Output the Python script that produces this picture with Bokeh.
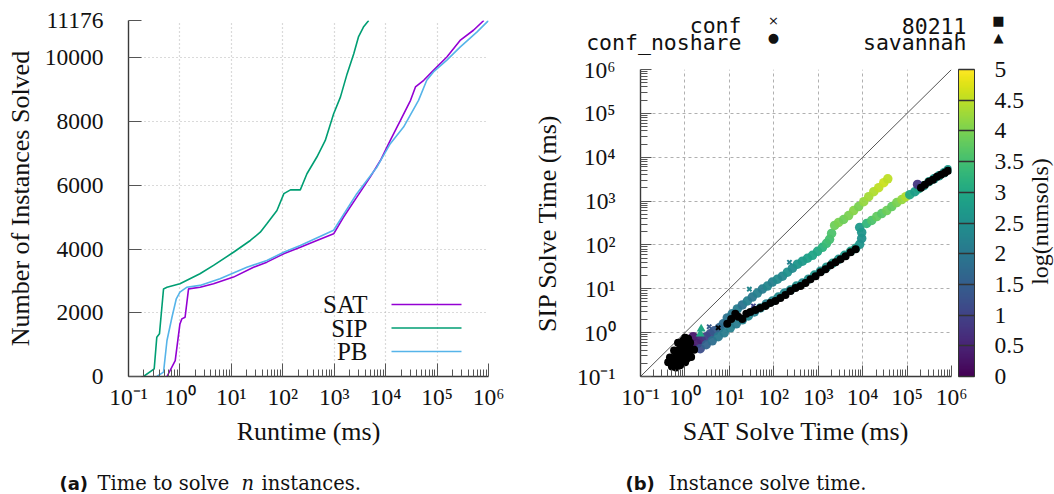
import math
from bokeh.plotting import figure
from bokeh.layouts import row, column
from bokeh.models import (FixedTicker, CustomJSTickFormatter, Label, Arrow, ColorBar,
                          LinearColorMapper, ColumnDataSource, Plot)
from bokeh.palettes import Viridis256
from bokeh.embed import file_html
from bokeh.resources import INLINE

# ---------------- data: panel (a) cumulative solved instances ----------------
sat_runtime = [0.56, 0.81, 1.0, 1.09, 1.26, 1.47, 2.47, 4.5, 11, 27, 49, 104, 219, 460, 975,
               1510, 2750, 5000, 7900, 12300, 19400, 30500, 38000, 55000, 85000, 155000,
               280000, 510000, 810000]
sat_solved = [0, 500, 1650, 1810, 1860, 2750, 2800, 2910, 3120, 3430, 3590, 3850, 4060, 4270,
              4480, 5000, 5630, 6260, 6780, 7410, 8040, 8670, 9090, 9300, 9610, 10030, 10550,
              10870, 11176]
sip_runtime = [0.196, 0.316, 0.355, 0.40, 0.48, 0.56, 1.0, 2.45, 4.5, 11, 23.4, 36.5, 49, 77,
               105, 141, 219, 295, 460, 670, 975, 1320, 1780, 2400, 2960, 3700, 4680]
sip_solved = [0, 240, 1235, 1340, 2750, 2800, 2910, 3225, 3490, 3900, 4270, 4530, 4795, 5210,
              5740, 5860, 5860, 6365, 6890, 7410, 8250, 8770, 9500, 10130, 10660, 10970, 11176]
pb_runtime = [0.355, 0.48, 0.56, 0.70, 0.85, 1.0, 1.35, 2.45, 6.0, 20, 49, 104, 219, 975, 2750,
              6800, 12300, 22300, 43600, 63000, 85000, 155000, 280000, 600000, 1000000]
pb_solved = [0, 136, 1130, 1860, 2440, 2650, 2800, 2860, 3070, 3430, 3640, 3900, 4110, 4590,
             5740, 6580, 7310, 7830, 8670, 9300, 9560, 9930, 10340, 10820, 11176]
series_names = ["SAT", "SIP", "PB"]
y_ticks_a = [0, 2000, 4000, 6000, 8000, 10000, 11176]

# ---------------- data: panel (b) instance solve time ----------------
upper_sat = [1.18, 1.46, 1.53, 1.89, 2.32, 3.01, 3.71, 4.57, 5.92, 7.29, 8.98, 11.6, 15.1, 19.6,
             25.4, 32.9, 42.7, 55.4, 71.8, 93.1, 121, 157, 203, 263, 342, 443, 574, 745, 966,
             1250, 1540, 1800, 2000, 2340, 2880, 3730, 4840, 6280, 8140, 10600, 13700, 17800,
             23000, 29900, 36800]
upper_sip = [0.35, 0.45, 0.81, 0.56, 0.69, 0.81, 0.94, 1.10, 1.29, 1.59, 2.17, 2.68, 3.47, 4.28,
             5.27, 6.49, 8.00, 9.86, 11.5, 14.2, 16.6, 19.4, 23.9, 29.5, 36.3, 42.5, 49.7, 58.1,
             71.6, 88.2, 109, 134, 183, 278, 325, 380, 468, 607, 748, 971, 1260, 1640, 2020,
             2620, 3220]
upper_lognum = [0.2, 0.3, 0.3, 0.4, 0.5, 0.9, 1.1, 1.4, 1.6, 1.8, 1.9, 2.0, 2.1, 1.9, 2.2, 2.0,
                2.2, 2.1, 2.3, 2.2, 2.4, 2.3, 2.5, 2.4, 2.6, 2.7, 2.8, 2.9, 3.0, 3.2, 3.4, 3.5,
                3.6, 3.9, 4.0, 3.9, 4.0, 4.1, 4.0, 4.2, 4.3, 4.4, 4.5, 4.6, 4.5]

lower_sat = [2.21, 3.01, 4.12, 5.62, 7.68, 10.5, 14.3, 19.6, 26.7, 36.5, 49.9, 68.2, 93.1, 127,
             174, 237, 324, 443, 605, 827, 1130, 1540, 2110, 2880, 3930, 5370, 6970, 8580,
             9520, 9520, 8580, 12300, 16000, 20800, 26900, 34900, 45300, 58700, 76200, 93800,
             115000, 150000, 184000, 239000, 310000, 402000, 521000, 676000, 832000]
lower_sip = [0.43, 0.53, 0.65, 0.81, 0.99, 1.29, 1.59, 1.96, 2.41, 2.97, 3.66, 4.51, 5.27, 6.49,
             8.00, 9.36, 11.5, 13.5, 16.6, 20.5, 25.2, 31.1, 38.2, 47.1, 58.1, 71.6, 83.6, 103,
             141, 193, 250, 308, 361, 444, 519, 607, 748, 922, 1080, 1260, 1400, 1640, 1910,
             2240, 2760, 3220, 3770, 4410, 5150]
lower_lognum = [1.2, 1.6, 1.8, 2.0, 2.1, 2.2, 2.1, 2.2, 2.3, 2.2, 2.3, 2.2, 2.3, 2.4, 2.3, 2.4,
                2.5, 2.4, 2.5, 2.6, 2.5, 2.6, 2.7, 2.6, 2.7, 2.8, 2.8, 2.6, 2.5, 2.6, 2.7, 3.3,
                3.6, 3.8, 3.7, 3.9, 3.8, 4.0, 4.2, 4.4, 3.0, 2.8, 2.9, 2.7, 2.8, 2.6, 2.7, 2.6,
                2.7]

odd_sat = [172000]
odd_sip = [2390]
odd_lognum = [0.8]

nosol_sat = [0.42, 0.51, 0.63, 0.78, 1.01, 0.46, 0.60, 0.78, 1.07, 1.38, 0.57, 0.74, 0.96, 1.24,
             1.61, 0.70, 0.91, 1.01, 1.18, 0.49, 1.31, 0.54, 0.70, 0.865, 1.12, 0.633, 0.821,
             1.065, 0.865, 1.12, 1.31,
             8.98, 11.0, 13.6, 15.9, 19.6, 24.1, 29.7, 38.5, 49.9, 64.7, 83.9, 109, 141, 183,
             237, 308, 399, 518, 671, 871, 1130, 1460, 1900, 2460, 3190, 4140, 5370, 6970,
             205000, 252000, 310000, 382000, 470000, 578000, 712000, 832000]
nosol_sip = [0.21, 0.17, 0.16, 0.18, 0.21, 0.27, 0.26, 0.28, 0.30, 0.28, 0.39, 0.41, 0.45, 0.48,
             0.41, 0.59, 0.65, 0.76, 0.73, 0.21, 0.39, 0.208, 0.23, 0.256, 0.256, 0.331, 0.35,
             0.388, 0.504, 0.56, 0.589,
             1.59, 2.06, 2.68, 2.29, 2.06, 2.68, 2.97, 3.30, 3.66, 4.06, 4.75, 5.27, 6.16, 7.21,
             8.88, 10.4, 11.5, 13.5, 16.6, 19.4, 23.9, 28.0, 34.5, 40.3, 47.1, 55.1, 67.9, 79.4,
             2020, 2360, 2760, 3060, 3580, 3970, 4410, 4890]

conf_sat = [225, 28.2, 3.52, 34.7]
conf_sip = [40.3, 9.86, 1.36, 4.06]
conf_lognum = [2.2, 2.3, 1.4, 1.0]
conf_nosol_sat = [5.62]
conf_nosol_sip = [1.29]

savannah_sat = [2.21, 2.32]
savannah_sip = [0.94, 1.22]
savannah_lognum = [3.0, 3.0]

legend_b = [("conf", "×"), ("conf_noshare", "●"), ("80211", "■"), ("savannah", "▲")]
cbar_ticks = [0, 0.5, 1, 1.5, 2, 2.5, 3, 3.5, 4, 4.5, 5]
decades = [10.0 ** k for k in range(-1, 7)]
minors = [m * 10.0 ** k for k in range(-1, 6) for m in range(2, 10)]

# ---------------- styling helpers ----------------
SERIF = "Liberation Serif"
CAP_SERIF = "DejaVu Serif"
MONO = "DejaVu Sans Mono"
TICK_FS = "23.5px"
LABEL_FS = "26px"
CAP_FS = "19.5px"
ALIGN = {"frame_align": False} if "frame_align" in Plot.properties() else {}

SUP = CustomJSTickFormatter(code="""
const e = Math.round(Math.log10(tick));
const s = {'-':'\u207b','0':'\u2070','1':'\u00b9','2':'\u00b2','3':'\u00b3','4':'\u2074',
           '5':'\u2075','6':'\u2076','7':'\u2077','8':'\u2078','9':'\u2079'};
return '10' + String(e).split('').map(c => s[c]).join('');
""")


def style_axis(ax, tick_in, minor_in):
    ax.axis_line_color = "#3a3a3a"
    ax.axis_line_width = 1.4
    ax.major_tick_in = tick_in
    ax.major_tick_out = 0
    ax.minor_tick_in = minor_in
    ax.minor_tick_out = 0
    ax.major_tick_line_color = "#555555"
    ax.minor_tick_line_color = "#555555"
    ax.major_label_text_font = SERIF
    ax.major_label_text_font_size = TICK_FS
    ax.major_label_text_color = "#111111"
    ax.axis_label_text_font = SERIF
    ax.axis_label_text_font_size = LABEL_FS
    ax.axis_label_text_font_style = "normal"
    ax.axis_label_text_color = "#111111"


def add_label(p, text, x, y, font=SERIF, size="22px", align="left", baseline="alphabetic",
              style="normal", angle=0.0, color="#111111"):
    p.add_layout(Label(x=x, y=y, x_units="screen", y_units="screen", text=text,
                       text_font=font, text_font_size=size, text_align=align,
                       text_baseline=baseline, text_font_style=style, angle=angle,
                       text_color=color))


def text_fig(w, h):
    f = figure(width=w, height=h, x_range=(0, 1), y_range=(0, 1),
               x_axis_location=None, y_axis_location=None,
               output_backend="svg", toolbar_location=None, min_border=0,
               min_border_left=0, min_border_right=0, min_border_top=0, min_border_bottom=0,
               **ALIGN)
    f.grid.visible = False
    f.outline_line_color = None
    f.background_fill_color = "white"
    f.border_fill_color = "white"
    return f


# ---------------- layout sizes ----------------
WA, WB = 528, 526
H_MAIN = 454
H_CAP = 40
H_LEG = 56
FRAME_TOP_B = 69
FRAME_H_B = 376 - FRAME_TOP_B

# ---------------- panel (a) ----------------
p1 = figure(width=WA, height=H_MAIN, x_axis_type="log", x_range=(0.1, 1e6),
            y_range=(0, 11176), output_backend="svg", toolbar_location=None,
            min_border_left=128, min_border_right=40, min_border_top=20,
            min_border_bottom=H_MAIN - 376, **ALIGN)
p1.outline_line_color = None
p1.xaxis.ticker = FixedTicker(ticks=decades, minor_ticks=minors)
p1.xaxis.formatter = SUP
p1.yaxis.ticker = FixedTicker(ticks=y_ticks_a)
p1.xgrid.ticker = FixedTicker(ticks=decades)
p1.ygrid.ticker = FixedTicker(ticks=y_ticks_a)
for g in (p1.xgrid, p1.ygrid):
    g.grid_line_color = "#b5b5b5"
    g.grid_line_dash = "1 3"
    g.grid_line_width = 1.2
style_axis(p1.xaxis, 13, 7)
style_axis(p1.yaxis, 13, 0)
p1.xaxis.major_label_standoff = 7
p1.yaxis.major_label_standoff = 25
p1.xaxis.axis_label = "Runtime (ms)"
p1.yaxis.axis_label = "Number of Instances Solved"
p1.xaxis.axis_label_standoff = 4
p1.yaxis.axis_label_standoff = 7

colors_a = ["#9400d3", "#009e73", "#56b4e9"]
for xs, ys, c in zip([sat_runtime, sip_runtime, pb_runtime],
                     [sat_solved, sip_solved, pb_solved], colors_a):
    p1.line(xs, ys, line_color=c, line_width=1.6)

for i, (name, c) in enumerate(zip(series_names, colors_a)):
    yy = 72 - 23.5 * i
    add_label(p1, name, 239, yy, size="25px", align="right", baseline="middle")
    p1.add_layout(Arrow(end=None, x_start=263, y_start=yy, x_end=333, y_end=yy,
                        start_units="screen", end_units="screen",
                        line_color=c, line_width=1.6))

CAP_Y = 11
cap1 = text_fig(WA, H_CAP)
add_label(cap1, "(a)", 59, CAP_Y, font="DejaVu Sans", size="18px", style="bold")
add_label(cap1, "Time to solve", 97, CAP_Y, font=CAP_SERIF, size=CAP_FS)
add_label(cap1, "n", 241, CAP_Y, font=CAP_SERIF, size=CAP_FS, style="italic")
add_label(cap1, "instances.", 261, CAP_Y, font=CAP_SERIF, size=CAP_FS)

# ---------------- panel (b) ----------------
W2, W3 = 497, 29
p2 = figure(width=W2, height=H_MAIN - H_LEG, x_axis_type="log", y_axis_type="log",
            x_range=(0.1, 1e6), y_range=(0.1, 1e6),
            output_backend="svg", toolbar_location=None,
            min_border_left=112, min_border_right=W2 - 112 - 311,
            min_border_top=FRAME_TOP_B - H_LEG, min_border_bottom=H_MAIN - 376, **ALIGN)
p2.outline_line_color = None
for ax in (p2.xaxis, p2.yaxis):
    ax.ticker = FixedTicker(ticks=decades, minor_ticks=minors)
    ax.formatter = SUP
    style_axis(ax, 11, 7)
p2.xgrid.ticker = FixedTicker(ticks=decades)
p2.ygrid.ticker = FixedTicker(ticks=decades)
for g in (p2.xgrid, p2.ygrid):
    g.grid_line_color = "#b0b0b0"
    g.grid_line_dash = "3 3"
    g.grid_line_width = 1
p2.xaxis.major_label_standoff = 7
p2.yaxis.major_label_standoff = 25
p2.xaxis.axis_label = "SAT Solve Time (ms)"
p2.yaxis.axis_label = "SIP Solve Time (ms)"
p2.xaxis.axis_label_standoff = 4
p2.yaxis.axis_label_standoff = 12

mapper = LinearColorMapper(palette=Viridis256, low=0, high=5)

diag = [0.1, 1e6]
p2.line(diag, diag, line_color="#555555", line_width=1)

band_src = ColumnDataSource(dict(x=upper_sat + lower_sat + odd_sat,
                                 y=upper_sip + lower_sip + odd_sip,
                                 c=upper_lognum + lower_lognum + odd_lognum))
p2.scatter("x", "y", source=band_src, marker="circle", size=9.5,
           fill_color={"field": "c", "transform": mapper}, line_color=None, fill_alpha=0.95)

sav_src = ColumnDataSource(dict(x=savannah_sat, y=savannah_sip, c=savannah_lognum))
p2.scatter("x", "y", source=sav_src, marker="triangle", size=9,
           fill_color={"field": "c", "transform": mapper}, line_color=None)

conf_src = ColumnDataSource(dict(x=conf_sat, y=conf_sip, c=conf_lognum))
p2.scatter("x", "y", source=conf_src, marker="x", size=6, line_width=2,
           line_color={"field": "c", "transform": mapper})
p2.scatter(conf_nosol_sat, conf_nosol_sip, marker="x", size=6, line_width=2, line_color="black")

p2.scatter(nosol_sat, nosol_sip, marker="circle", size=8, fill_color="black", line_color=None)

cb = ColorBar(color_mapper=mapper, location=(318, 0), width=16, height=FRAME_H_B, padding=0,
              orientation="vertical",
              ticker=FixedTicker(ticks=cbar_ticks),
              formatter=CustomJSTickFormatter(code="return String(tick);"),
              major_tick_in=16, major_tick_out=0, major_tick_line_color="#333333",
              major_tick_line_width=1.5,
              bar_line_color="#333333", bar_line_width=1,
              label_standoff=20, major_label_text_font=SERIF,
              major_label_text_font_size=TICK_FS, major_label_text_color="#111111",
              background_fill_alpha=0, border_line_color=None)
p2.add_layout(cb)

# colour bar title
p3 = text_fig(W3, H_MAIN - H_LEG)
add_label(p3, "log(numsols)", 14.5, H_MAIN - 221, size="24px", align="center",
          baseline="middle", angle=math.pi / 2)

# legend of panel (b): names on text baselines, marker glyphs centred on the rows
leg2 = text_fig(WB, H_LEG)
name_pos = [(213, H_LEG - 25), (213, H_LEG - 41.5), (438, H_LEG - 25), (438, H_LEG - 41.5)]
mark_pos = [(245, H_LEG - 19.5), (245, H_LEG - 37), (470, H_LEG - 19.5), (470, H_LEG - 37)]
for (name, mark), (tx, ty), (mx, my) in zip(legend_b, name_pos, mark_pos):
    add_label(leg2, name, tx, ty, font=MONO, size="21.5px", align="right")
    add_label(leg2, mark, mx, my, font="DejaVu Sans", size="13px", align="center",
              baseline="middle")

cap2 = text_fig(WB, H_CAP)
add_label(cap2, "(b)", 97, CAP_Y, font="DejaVu Sans", size="18px", style="bold")
add_label(cap2, "Instance solve time.", 140, CAP_Y, font=CAP_SERIF, size=CAP_FS)

layout = row(column(p1, cap1), column(leg2, row(p2, p3), cap2))
open("out.html", "w").write(file_html(layout, INLINE))
